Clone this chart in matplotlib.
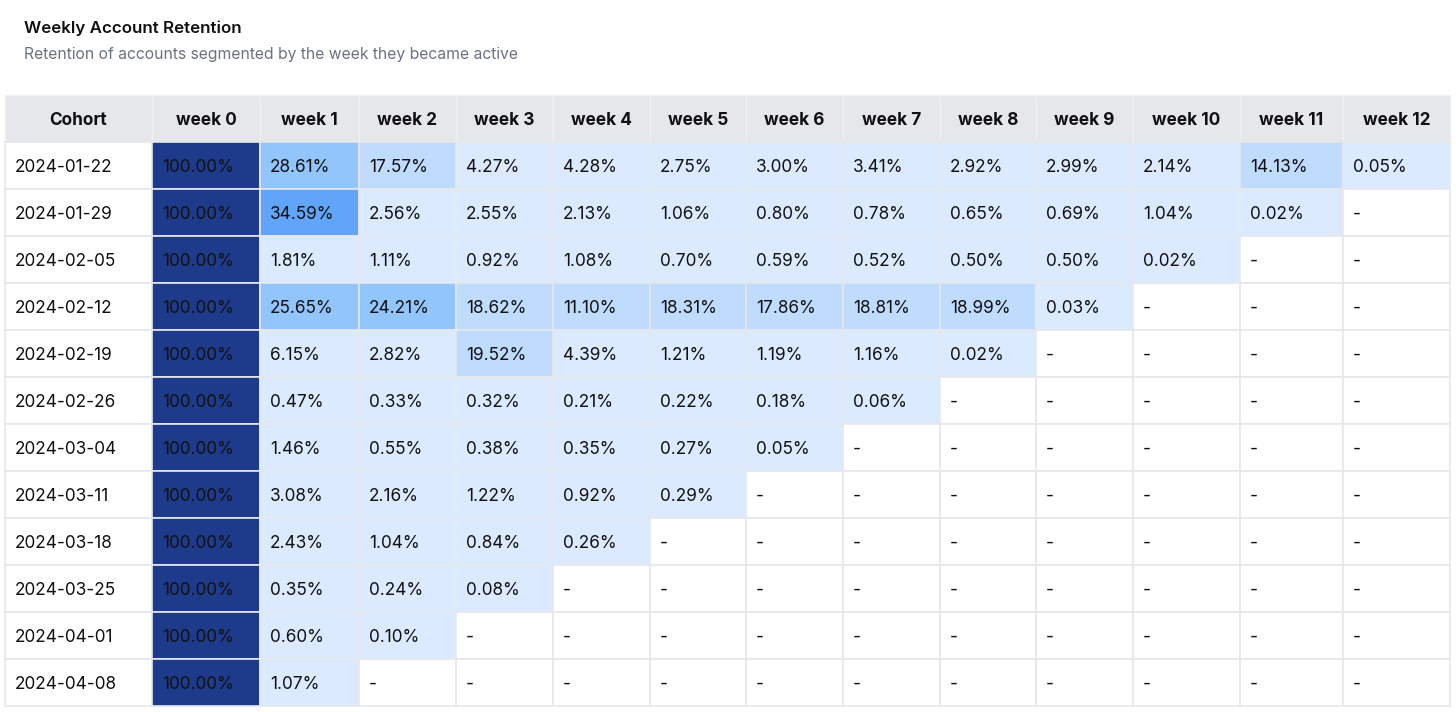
import numpy as np
import matplotlib
matplotlib.use("Agg")
import matplotlib.pyplot as plt
from matplotlib.patches import Rectangle

plt.rcParams["font.family"] = ["Inter", "DejaVu Sans"]

# ---------------------------------------------------------------
# Data
# ---------------------------------------------------------------
title = "Weekly Account Retention"
subtitle = "Retention of accounts segmented by the week they became active"

weeks = ["week %d" % i for i in range(13)]
cohorts = ["2024-01-22", "2024-01-29", "2024-02-05", "2024-02-12",
           "2024-02-19", "2024-02-26", "2024-03-04", "2024-03-11",
           "2024-03-18", "2024-03-25", "2024-04-01", "2024-04-08"]

r_0122 = [100.00, 28.61, 17.57, 4.27, 4.28, 2.75, 3.00, 3.41, 2.92, 2.99, 2.14, 14.13, 0.05]
r_0129 = [100.00, 34.59, 2.56, 2.55, 2.13, 1.06, 0.80, 0.78, 0.65, 0.69, 1.04, 0.02]
r_0205 = [100.00, 1.81, 1.11, 0.92, 1.08, 0.70, 0.59, 0.52, 0.50, 0.50, 0.02]
r_0212 = [100.00, 25.65, 24.21, 18.62, 11.10, 18.31, 17.86, 18.81, 18.99, 0.03]
r_0219 = [100.00, 6.15, 2.82, 19.52, 4.39, 1.21, 1.19, 1.16, 0.02]
r_0226 = [100.00, 0.47, 0.33, 0.32, 0.21, 0.22, 0.18, 0.06]
r_0304 = [100.00, 1.46, 0.55, 0.38, 0.35, 0.27, 0.05]
r_0311 = [100.00, 3.08, 2.16, 1.22, 0.92, 0.29]
r_0318 = [100.00, 2.43, 1.04, 0.84, 0.26]
r_0325 = [100.00, 0.35, 0.24, 0.08]
r_0401 = [100.00, 0.60, 0.10]
r_0408 = [100.00, 1.07]

rows = [r_0122, r_0129, r_0205, r_0212, r_0219, r_0226,
        r_0304, r_0311, r_0318, r_0325, r_0401, r_0408]

# ---------------------------------------------------------------
# Style / layout (pixels)
# ---------------------------------------------------------------
W, H = 1456, 712
col_edges = [5, 152, 260, 359, 456, 553, 650, 746, 843, 940, 1036, 1133, 1240, 1343, 1450]
head_top, head_bot = 95, 142
row_h = 47

# colour bins of 10 percentage points
bin_edges = [10, 20, 30, 40, 50, 60, 70, 80, 90]
bin_colors = ["#dbeafe", "#bfdbfe", "#93c5fd", "#60a5fa", "#3b82f6",
              "#2563eb", "#1d4ed8", "#1e40af", "#1e3a8a", "#1e3a8a"]
line_col = "#e5e7eb"
head_bg = "#e5e7eb"

fig = plt.figure(figsize=(W / 100, H / 100), dpi=100)
ax = fig.add_axes([0, 0, 1, 1])
ax.set_xlim(0, W)
ax.set_ylim(H, 0)
ax.axis("off")

fs = 12.4

ax.text(24, 28, title, fontsize=12.2, fontweight="semibold", color="#111111",
        va="center", ha="left")
ax.text(24, 55, subtitle, fontsize=11.3, color="#6b7280", va="center", ha="left")

# header
labels = ["Cohort"] + weeks
for j, lab in enumerate(labels):
    x0, x1 = col_edges[j], col_edges[j + 1]
    ax.add_patch(Rectangle((x0, head_top), x1 - x0, head_bot - head_top,
                           facecolor=head_bg, edgecolor="#eeeff1", lw=1))
    ax.text((x0 + x1) / 2, (head_top + head_bot) / 2 + 2, lab, fontsize=fs,
            fontweight="bold", color="#111111", ha="center", va="center")

# body
for i, (coh, vals) in enumerate(zip(cohorts, rows)):
    y0 = head_bot + i * row_h
    yc = y0 + row_h / 2 + 2
    ax.add_patch(Rectangle((col_edges[0], y0), col_edges[1] - col_edges[0], row_h,
                           facecolor="white", edgecolor=line_col, lw=1.2))
    ax.text(col_edges[0] + 10, yc, coh, fontsize=fs, color="#111111",
            ha="left", va="center")
    for j in range(len(weeks)):
        x0, x1 = col_edges[j + 1], col_edges[j + 2]
        if j < len(vals):
            v = vals[j]
            fc = bin_colors[np.digitize(v, bin_edges)]
            txt = "%.2f%%" % v
        else:
            fc = "white"
            txt = "-"
        ax.add_patch(Rectangle((x0, y0), x1 - x0, row_h, facecolor=fc,
                               edgecolor=line_col, lw=1.2))
        ax.text(x0 + 10, yc, txt, fontsize=fs, color="#111111",
                ha="left", va="center")

fig.savefig("out.png", dpi=100, facecolor="white")
